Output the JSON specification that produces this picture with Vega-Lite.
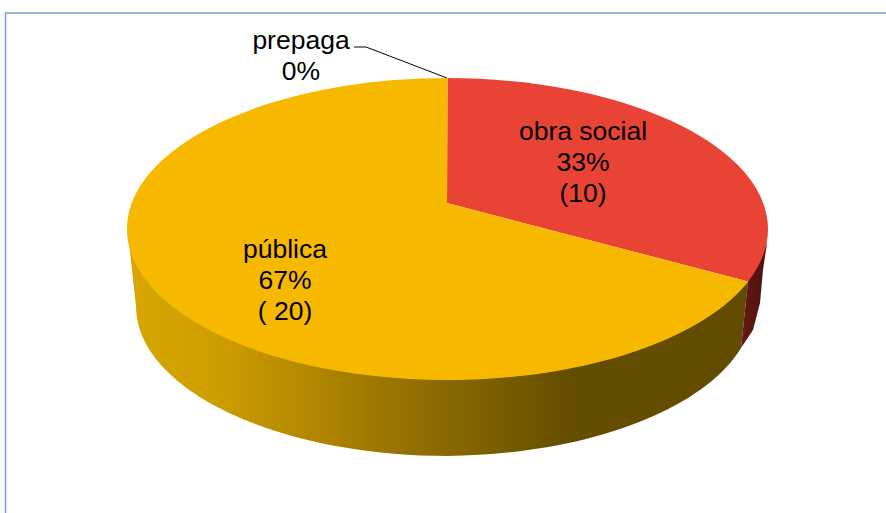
{
  "$schema": "https://vega.github.io/schema/vega-lite/v6.json",
  "width": 886,
  "height": 513,
  "autosize": {"type": "none"},
  "padding": 0,
  "background": "white",
  "view": {"stroke": null},
  "config": {"style": {"cell": {"stroke": null}}},
  "data": {"values": [
    {"category": "prepaga", "share": 0, "count": 0, "label": "prepaga\n0%"},
    {"category": "obra social", "share": 33, "count": 10, "label": "obra social\n33%\n(10)"},
    {"category": "pública", "share": 67, "count": 20, "label": "pública\n67%\n( 20)"}
  ]},
  "layer": [
    {
      "data": {"values": [{"element": "frame"}]},
      "mark": {"type": "point", "filled": false, "shape": "M-437.5,256.5 L-437.5,-243.5 L443,-243.5", "size": 4, "stroke": "#7c9fd3", "strokeWidth": 1.5, "opacity": 1}
    },
    {
      "transform": [{"filter": "datum.category === 'pública'"}],
      "mark": {"type": "point", "filled": true, "size": 4, "opacity": 1, "strokeWidth": 0,
        "shape": "M-315.5,-27.5 A320.5,151 0 0 0 305,25 L298,91.5 A312,150 0 0 1 4.5,199.5 A312,150 0 0 1 -307,49.5 Z",
        "fill": {"gradient": "linear", "x1": 0, "y1": 0, "x2": 1, "y2": 0, "stops": [
          {"offset": 0, "color": "#d9a600"},
          {"offset": 0.134, "color": "#cf9e00"},
          {"offset": 0.28, "color": "#b58a00"},
          {"offset": 0.44, "color": "#967200"},
          {"offset": 0.713, "color": "#654d00"},
          {"offset": 1, "color": "#624b00"}
        ]}}
    },
    {
      "transform": [{"filter": "datum.category === 'obra social'"}],
      "mark": {"type": "point", "filled": true, "size": 4, "opacity": 1, "strokeWidth": 0,
        "shape": "M305,25 L298,91.5 L310,73.5 L317,46.5 L320,13.5 L324,-13.5 Z",
        "fill": {"gradient": "linear", "x1": 0, "y1": 0, "x2": 1, "y2": 0, "stops": [
          {"offset": 0, "color": "#621c12"},
          {"offset": 1, "color": "#4f1012"}
        ]}}
    },
    {
      "transform": [{"filter": "datum.category === 'prepaga'"}],
      "mark": {"type": "point", "filled": false, "size": 4, "opacity": 1, "stroke": "#000000", "strokeWidth": 1,
        "shape": "M-89,-209.5 L-77,-209.5 L4,-178.5"}
    },
    {
      "transform": [{"filter": "datum.category !== 'prepaga'"}],
      "mark": {"type": "point", "filled": true, "size": 4, "opacity": 1, "strokeWidth": 0},
      "encoding": {
        "shape": {"field": "category", "type": "nominal", "legend": null, "scale": {
          "domain": ["obra social", "pública"],
          "range": [
            "M4,-53.5 L4.5,-178.5 A320.5,151 0 0 1 305,25 Z",
            "M4,-53.5 L305,25 A320.5,151 0 1 1 4.5,-178.5 Z"
          ]}},
        "fill": {"field": "category", "type": "nominal", "legend": null, "scale": {
          "domain": ["obra social", "pública"],
          "range": ["#e94335", "#f7b900"]}}
      }
    },
    {
      "mark": {"type": "text", "font": "Liberation Sans", "fontSize": 26.5, "lineHeight": 31, "align": "center", "baseline": "middle", "lineBreak": "\n", "color": "#000000"},
      "encoding": {
        "text": {"field": "label", "type": "nominal"},
        "x": {"field": "share", "type": "quantitative", "axis": null, "scale": {"domain": [0, 33, 67], "range": [301, 583, 285]}},
        "y": {"field": "share", "type": "quantitative", "axis": null, "scale": {"domain": [0, 33, 67], "range": [41, 132, 250]}}
      }
    }
  ]
}
